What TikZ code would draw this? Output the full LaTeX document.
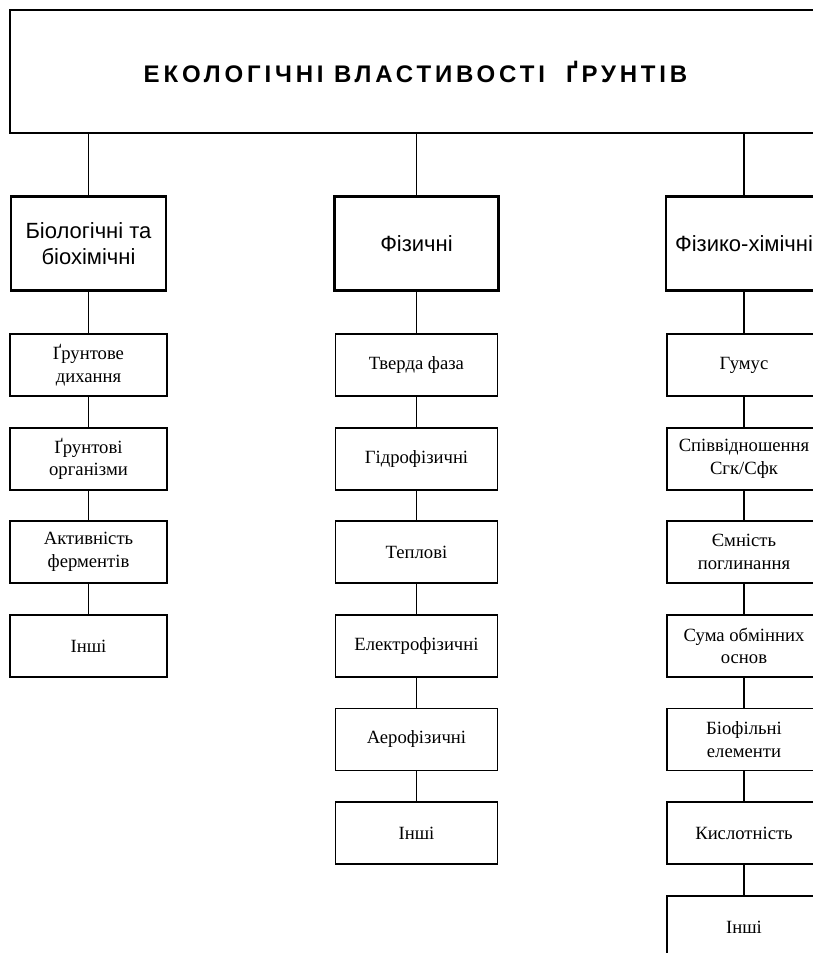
\documentclass[tikz,border=0pt]{standalone}
\usepackage{fontspec}
\setmainfont{Liberation Serif}
\newfontfamily\arialfont{Liberation Sans}
\newfontfamily\titlefont[LetterSpace=16]{Liberation Sans}
\usepackage{tikz}

\tikzset{
  mainbox/.style={draw, line width=1.6pt, minimum width=608.25pt, minimum height=92.25pt,
    font=\titlefont\bfseries\fontsize{18}{21}\selectfont},
  groupbox/.style={draw, line width=1.6pt, minimum height=70.5pt, align=center,
    font=\arialfont\fontsize{16.5}{19}\selectfont},
  itembox/.style={draw, line width=0.8pt, minimum height=46.5pt, align=center,
    font=\fontsize{14}{16.8}\selectfont},
  link/.style={line width=0.8pt}
}

\begin{document}
\begin{tikzpicture}[x=0.75pt, y=-0.75pt]
    % Fix the page and cut what runs past its right edge
    \useasboundingbox (0,0) rectangle (813,953);
    \clip (0,0) rectangle (813,953);

    % Draw the main rectangle
    \node[mainbox] (title) at (415.5,71.5) {ЕКОЛОГІЧНІ ВЛАСТИВОСТІ\ \ ҐРУНТІВ};

    % Draw the three groups
    \node[groupbox, minimum width=116.25pt] (bio) at (88.5,243.5) {Біологічні та\\біохімічні};
    \node[groupbox, minimum width=123pt] (phys) at (416.5,243.5) {Фізичні};
    \node[groupbox, minimum width=117pt] (chem) at (744,243.5) {Фізико-хімічні};

    % Left column
    \node[itembox, minimum width=117.75pt] (bio1) at (88.5,365) {Ґрунтове\\дихання};
    \node[itembox, minimum width=117.75pt] (bio2) at (88.5,459) {Ґрунтові\\організми};
    \node[itembox, minimum width=117.75pt] (bio3) at (88.5,552) {Активність\\ферментів};
    \node[itembox, minimum width=117.75pt, line width=1.3pt] (bio4) at (88.5,646) {Інші};

    % Middle column
    \node[itembox, minimum width=121.5pt] (phys1) at (416.5,365) {Тверда фаза};
    \node[itembox, minimum width=121.5pt] (phys2) at (416.5,459) {Гідрофізичні};
    \node[itembox, minimum width=121.5pt] (phys3) at (416.5,552) {Теплові};
    \node[itembox, minimum width=121.5pt] (phys4) at (416.5,646) {Електрофізичні};
    \node[itembox, minimum width=121.5pt] (phys5) at (416.5,739.5) {Аерофізичні};
    \node[itembox, minimum width=121.5pt] (phys6) at (416.5,833) {Інші};

    % Right column
    \node[itembox, minimum width=115.5pt] (chem1) at (744,365) {Гумус};
    \node[itembox, minimum width=115.5pt] (chem2) at (744,459) {Співвідношення\\Сгк/Сфк};
    \node[itembox, minimum width=115.5pt] (chem3) at (744,552) {Ємність\\поглинання};
    \node[itembox, minimum width=115.5pt] (chem4) at (744,646) {Сума обмінних\\основ};
    \node[itembox, minimum width=115.5pt] (chem5) at (744,739.5) {Біофільні\\елементи};
    \node[itembox, minimum width=115.5pt] (chem6) at (744,833) {Кислотність};
    \node[itembox, minimum width=115.5pt] (chem7) at (744,927) {Інші};

    % Draw the connectors
    \draw[link] (bio |- title.south) -- (bio);
    \draw[link] (phys |- title.south) -- (phys);
    \draw[link] (chem |- title.south) -- (chem);
    \foreach \a/\b in {bio/bio1, bio1/bio2, bio2/bio3, bio3/bio4,
                       phys/phys1, phys1/phys2, phys2/phys3, phys3/phys4, phys4/phys5, phys5/phys6,
                       chem/chem1, chem1/chem2, chem2/chem3, chem3/chem4, chem4/chem5, chem5/chem6, chem6/chem7}
      \draw[link] (\a) -- (\b);
\end{tikzpicture}
\end{document}
